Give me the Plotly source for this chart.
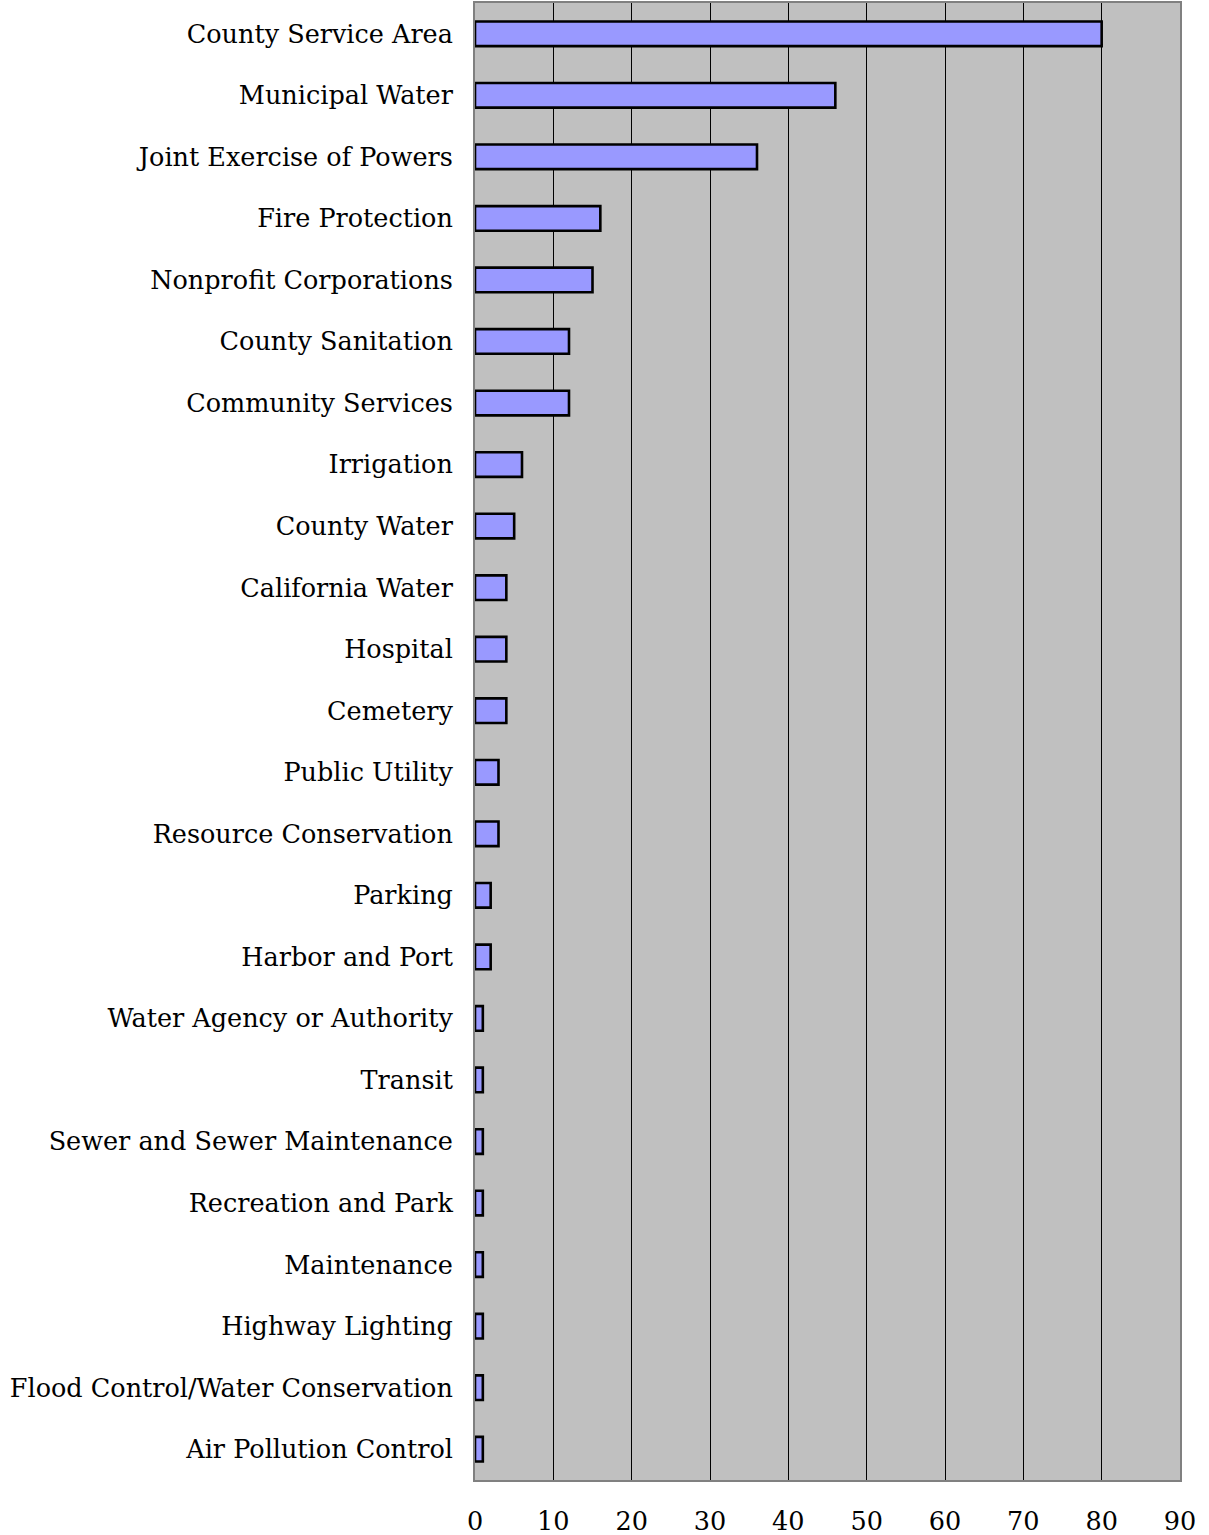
import plotly.graph_objects as go

categories = [
    "County Service Area", "Municipal Water", "Joint Exercise of Powers",
    "Fire Protection", "Nonprofit Corporations", "County Sanitation",
    "Community Services", "Irrigation", "County Water", "California Water",
    "Hospital", "Cemetery", "Public Utility", "Resource Conservation",
    "Parking", "Harbor and Port", "Water Agency or Authority", "Transit",
    "Sewer and Sewer Maintenance", "Recreation and Park", "Maintenance",
    "Highway Lighting", "Flood Control/Water Conservation", "Air Pollution Control",
]
values = [80, 46, 36, 16, 15, 12, 12, 6, 5, 4, 4, 4, 3, 3, 2, 2, 1, 1, 1, 1, 1, 1, 1, 1]
x_ticks = [0, 10, 20, 30, 40, 50, 60, 70, 80, 90]

fig = go.Figure(go.Bar(
    x=values, y=categories, orientation="h",
    marker=dict(color="#9999FF", line=dict(color="black", width=2.6)),
    width=0.4,
))

font_family = "DejaVu Serif"
fsize = 25.5
fig.update_layout(
    width=1209, height=1535,
    margin=dict(l=475, r=29, t=3, b=55),
    plot_bgcolor="#C0C0C0", paper_bgcolor="white",
    showlegend=False,
    font=dict(family=font_family, size=fsize, color="black"),
)
fig.update_xaxes(
    range=[0, 90], tickvals=x_ticks, ticktext=[str(v) for v in x_ticks],
    showgrid=True, gridcolor="black", gridwidth=1,
    showline=True, linecolor="#808080", linewidth=2, mirror=True,
    zeroline=False, ticks="", ticklabelstandoff=17, automargin=False,
    tickfont=dict(family=font_family, size=fsize, color="black"),
    fixedrange=True,
)
fig.update_yaxes(
    categoryorder="array", categoryarray=categories, autorange="reversed",
    range=[len(categories) - 0.5, -0.5],
    showgrid=False, showline=True, linecolor="#808080", linewidth=2, mirror=True,
    ticks="", ticklabelstandoff=15, automargin=False,
    tickfont=dict(family=font_family, size=fsize, color="black"),
)
fig.write_html(
    "out.html",
    config={"displayModeBar": False},
    post_script="document.body.style.margin='0';document.body.style.padding='0';",
)
